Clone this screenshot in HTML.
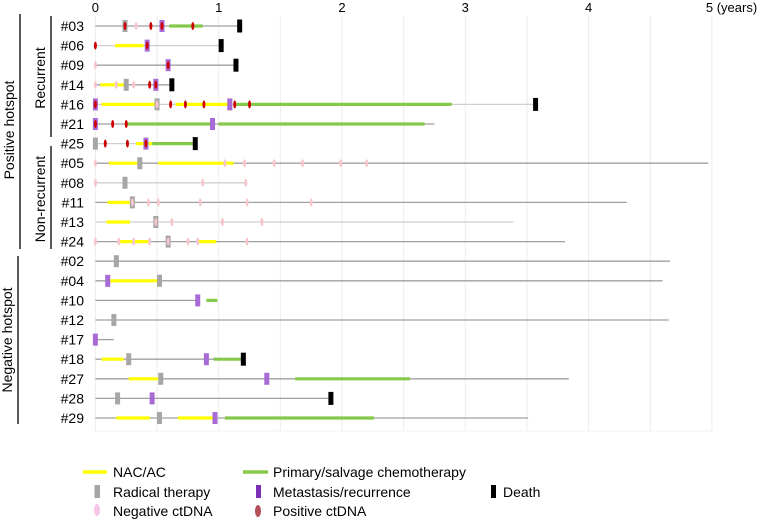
<!DOCTYPE html>
<html><head><meta charset="utf-8"><style>
html,body{margin:0;padding:0;background:#fff;}
svg{display:block;font-family:"Liberation Sans",sans-serif;}
</style></head><body>
<svg id="chart" width="767" height="520" viewBox="0 0 767 520" xmlns="http://www.w3.org/2000/svg">
<g id="grid"></g>
<g id="xaxis"></g>
<g id="groups">
  <line x1="20" y1="14" x2="20" y2="249" stroke="#000" stroke-width="1.3"/>
  <text transform="translate(14,130) rotate(-90)" text-anchor="middle" font-size="14">Positive hotspot</text>
  <line x1="51" y1="16" x2="51" y2="137" stroke="#000" stroke-width="1.3"/>
  <text transform="translate(45,78) rotate(-90)" text-anchor="middle" font-size="14">Recurrent</text>
  <line x1="51" y1="146" x2="51" y2="249" stroke="#000" stroke-width="1.3"/>
  <text transform="translate(45,199) rotate(-90)" text-anchor="middle" font-size="14">Non-recurrent</text>
  <line x1="18" y1="256" x2="18" y2="424" stroke="#000" stroke-width="1.3"/>
  <text transform="translate(12,340) rotate(-90)" text-anchor="middle" font-size="14">Negative hotspot</text>
</g>
<g id="rows"></g>
<g id="legend" font-size="14">
  <g><line x1="83" y1="472" x2="107" y2="472" stroke="#ffff00" stroke-width="3.5"/><text x="113" y="477">NAC/AC</text></g>
  <g><rect x="94.5" y="485" width="5.5" height="13" fill="#a6a6a6"/><text x="113" y="497">Radical therapy</text></g>
  <g><ellipse cx="97" cy="510" rx="3" ry="6" fill="#f7c5e6"/><text x="113" y="516">Negative ctDNA</text></g>
  <g><line x1="243" y1="472" x2="268" y2="472" stroke="#86c94a" stroke-width="3.5"/><text x="273" y="477">Primary/salvage chemotherapy</text></g>
  <g><rect x="256" y="485" width="5" height="13" fill="#7a2fb5"/><text x="273" y="497">Metastasis/recurrence</text></g>
  <g><ellipse cx="258" cy="511" rx="3" ry="6" fill="#b5505a"/><text x="273" y="516">Positive ctDNA</text></g>
  <g><rect x="491" y="485" width="5" height="13" fill="#000"/><text x="503" y="497">Death</text></g>
</g>
</svg>
<script>
const patients=["#03","#06","#09","#14","#16","#21","#25","#05","#08","#11","#13","#24","#02","#04","#10","#12","#17","#18","#27","#28","#29"];
const lineEnd=[1.17,1.02,1.14,0.62,3.57,2.75,0.81,4.97,1.23,4.31,3.39,3.81,4.66,4.6,0.83,4.65,0.15,1.2,3.84,1.91,3.51];
const lineDark=[1,0,1,1,0,1,0,1,0,1,0,1,1,1,1,1,1,1,1,1,1];
const nacSegs=[[],[[0.16,0.39]],[],[[0.04,0.24]],[[0.05,0.48],[0.65,1.08]],[],[[0.33,0.46]],[[0.11,0.34],[0.51,1.12]],[],[[0.1,0.28]],[[0.09,0.28]],[[0.19,0.43],[0.83,0.98]],[],[[0.1,0.51]],[],[],[],[[0.05,0.23]],[[0.27,0.51]],[],[[0.17,0.44],[0.67,0.95]]];
const chemoSegs=[[[0.6,0.87]],[],[],[],[[1.13,2.89]],[[0.25,0.93],[1.0,2.67]],[[0.46,0.8]],[],[],[],[],[],[],[],[[0.9,0.99]],[],[],[[0.96,1.19]],[[1.62,2.55]],[],[[1.05,2.26]]];
const radical=[[0.24],[],[],[0.25],[0.5],[],[0],[0.36],[0.24],[0.3],[0.49],[0.59],[0.17],[0.52],[],[0.15],[],[0.27],[0.53],[0.18],[0.52]];
const metastasis=[[0.54],[0.42],[0.59],[0.49],[0,1.09],[0,0.95],[0.41],[],[],[],[],[],[],[0.1],[0.83],[],[0],[0.9],[1.39],[0.46],[0.97]];
const negCt=[[0.33],[],[0],[0,0.17,0.31],[0.5],[],[],[0,1.05,1.21,1.45,1.68,1.99,2.2],[0,0.87,1.22],[0.3,0.43,0.51,0.85,1.23,1.75],[0.49,0.62,1.03,1.35],[0,0.19,0.31,0.44,0.59,0.75,0.83,1.23],[],[],[],[],[],[],[],[],[]];
const posCt=[[0.24,0.45,0.54,0.79],[0,0.42],[0.59],[0.44,0.49],[0,0.61,0.73,0.88,1.13,1.25],[0,0.14,0.25],[0.08,0.26,0.41],[],[],[],[],[],[],[],[],[],[],[],[],[],[]];
const death=[1.17,1.02,1.14,0.62,3.57,null,0.81,null,null,null,null,null,null,null,null,null,null,1.2,null,1.91,null];
const xTicks=[0,1,2,3,4,5];
const xTickLabels=["0","1","2","3","4","5 (years)"];

const NS="http://www.w3.org/2000/svg";
const X=t=>95.4+123.3*t;
const Y=i=>26+i*19.6;
function mk(tag,attrs,parent){const e=document.createElementNS(NS,tag);for(const k in attrs)e.setAttribute(k,attrs[k]);parent.appendChild(e);return e;}
const grid=document.getElementById('grid');
for(let k=0;k<=10;k++){const l=mk('line',{x1:X(k/2),x2:X(k/2),y1:16,y2:431,stroke:'#ececec','stroke-width':1},grid);

}
mk('line',{x1:92,x2:X(5),y1:431,y2:431,stroke:'#f0f0f0','stroke-width':1},grid);
const xa=document.getElementById('xaxis');
xTicks.forEach((v,i)=>{const t=mk('text',{x:X(v)+(i==5?-6:0),y:12,'font-size':13,'text-anchor':i==5?'start':'middle'},xa);t.textContent=xTickLabels[i];

});
const rows=document.getElementById('rows');
patients.forEach((p,i)=>{
 const y=Y(i);
 const g=mk('g',{},rows);
 
 
 const lb=mk('text',{x:84,y:y+5,'font-size':14,'text-anchor':'end'},g);lb.textContent=p;
 
 
 const ln=mk('line',{x1:X(0),x2:X(lineEnd[i]),y1:y,y2:y,stroke:lineDark[i]?'#a0a0a0':'#cfcfcf','stroke-width':1.3},g);
 
 
 nacSegs[i].forEach(s=>{const e=mk('line',{x1:X(s[0]),x2:X(s[1]),y1:y,y2:y,stroke:'#ffff00','stroke-width':3.2},g);
  
  });
 chemoSegs[i].forEach(s=>{const e=mk('line',{x1:X(s[0]),x2:X(s[1]),y1:y,y2:y,stroke:'#86c94a','stroke-width':3.2},g);
  
  });
 radical[i].forEach(t=>{const e=mk('rect',{x:X(t)-2.5,y:y-6,width:5,height:12,fill:'#a6a6a6'},g);
  
  });
 metastasis[i].forEach(t=>{const e=mk('rect',{x:X(t)-2.5,y:y-6,width:5,height:12,fill:'#a86bd6'},g);
  
  });
 negCt[i].forEach(t=>{const e=mk('ellipse',{cx:X(t),cy:y,rx:1.5,ry:4,fill:'#f7c5cc'},g);
  
  });
 posCt[i].forEach(t=>{const e=mk('ellipse',{cx:X(t),cy:y,rx:1.5,ry:4,fill:'#cc0000'},g);
  
  });
 if(death[i]!==null){const e=mk('rect',{x:X(death[i])-2.5,y:y-6.5,width:5,height:13,fill:'#000'},g);
  
  }
});
</script>
</body></html>
